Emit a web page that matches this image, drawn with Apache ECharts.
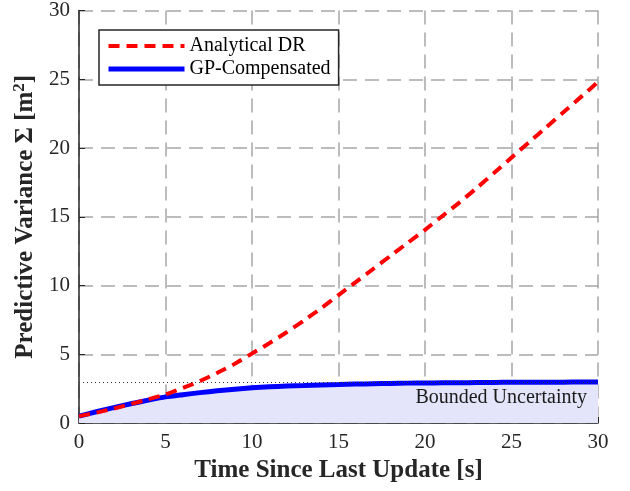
<!DOCTYPE html>
<html><head><meta charset="utf-8">
<script src="https://cdn.jsdelivr.net/npm/echarts@6/dist/echarts.min.js"></script>
<style>html,body{margin:0;padding:0;background:#fff}#c{width:630px;height:491px}</style>
</head><body><div id="c"></div>
<script>
var times = [0, 1, 2, 3, 4, 5, 6, 7, 8, 9, 10, 11, 12, 13, 14, 15, 16, 17, 18, 19, 20, 21, 22, 23, 24, 25, 26, 27, 28, 29, 30];
var analyticalDR = [0.5, 0.75, 1.05, 1.38, 1.72, 2.08, 2.55, 3.05, 3.65, 4.3, 5.05, 5.8, 6.6, 7.45, 8.35, 9.3, 10.25, 11.2, 12.15, 13.1, 14.05, 15.05, 16.05, 17.1, 18.2, 19.3, 20.4, 21.5, 22.6, 23.7, 24.8];
var gpCompensated = [0.5, 0.82, 1.12, 1.4, 1.66, 1.9, 2.06, 2.21, 2.34, 2.46, 2.56, 2.63, 2.69, 2.73, 2.77, 2.8, 2.83, 2.86, 2.88, 2.9, 2.91, 2.92, 2.93, 2.94, 2.95, 2.96, 2.96, 2.97, 2.97, 2.98, 2.98];
var boundLevel = 3;
var xTicks = [0, 5, 10, 15, 20, 25, 30];
var yTicks = [0, 5, 10, 15, 20, 25, 30];

var font = '"Liberation Serif", "DejaVu Serif", serif';
function pairs(xs, ys){ return xs.map(function(x,i){return [x, ys[i]];}); }

var chart = echarts.init(document.getElementById('c'));
var axisCommon = {
  type: 'value', min: 0, max: 30, interval: 5,
  axisLine: {show: true, lineStyle: {color: '#262626', width: 1.5}},
  axisTick: {show: true, inside: true, length: 6, lineStyle: {color: '#262626', width: 1}},
  axisLabel: {color: '#262626', fontFamily: font, fontSize: 21, margin: 9},
  splitLine: {show: true, lineStyle: {color: '#a6a6a6', width: 1.5, type: [14, 8]}}
};
chart.setOption({
  animation: false,
  grid: {left: 79, right: 32, top: 9, bottom: 68, containLabel: false},
  xAxis: Object.assign({}, axisCommon, {
    name: 'Time Since Last Update [s]', nameLocation: 'middle', nameGap: 35,
    nameTextStyle: {color: '#262626', fontFamily: font, fontSize: 25, fontWeight: 'bold'}
  }),
  yAxis: Object.assign({}, axisCommon, {
    name: 'Predictive Variance Σ [m{sup|2}]', nameLocation: 'middle', nameGap: 31,
    nameTextStyle: {color: '#262626', fontFamily: font, fontSize: 25, fontWeight: 'bold',
      rich: {sup: {fontFamily: font, fontSize: 17, fontWeight: 'bold', color: '#262626', verticalAlign: 'top', padding: [0,0,12,0]}}}
  }),
  legend: {
    left: 99, top: 30, orient: 'vertical', itemGap: 3,
    padding: [6, 8, 6, 7],
    itemWidth: 76, itemHeight: 20,
    borderColor: '#262626', borderWidth: 1.5, backgroundColor: '#fff',
    itemStyle: {opacity: 0},
    textStyle: {fontFamily: font, fontSize: 20, color: '#000'},
    data: [
      {name: 'Analytical DR', lineStyle: {width: 4}},
      {name: 'GP-Compensated', lineStyle: {width: 5}}
    ]
  },
  series: [
    {
      name: 'GP-Compensated', type: 'line', data: pairs(times, gpCompensated),
      smooth: 0.2, showSymbol: false, symbol: 'none', z: 3,
      lineStyle: {color: '#0000ff', width: 5},
      itemStyle: {color: '#0000ff'},
      areaStyle: {color: '#e4e4fa', opacity: 1},
      markLine: {
        silent: true, symbol: 'none', label: {show: false},
        lineStyle: {color: '#333', width: 1, type: [1, 3]},
        data: [{yAxis: boundLevel}]
      }
    },
    {
      name: 'Analytical DR', type: 'line', data: pairs(times, analyticalDR),
      smooth: 0.2, showSymbol: false, symbol: 'none', z: 4,
      lineStyle: {color: '#ff0000', width: 4, type: [11, 7]},
      itemStyle: {color: '#ff0000'}
    }
  ],
  graphic: [{
    type: 'text', right: 43, top: 388, z: 10,
    style: {text: 'Bounded Uncertainty', fontFamily: font, fontSize: 20, fill: '#1a1a1a'}
  }]
});
</script></body></html>
